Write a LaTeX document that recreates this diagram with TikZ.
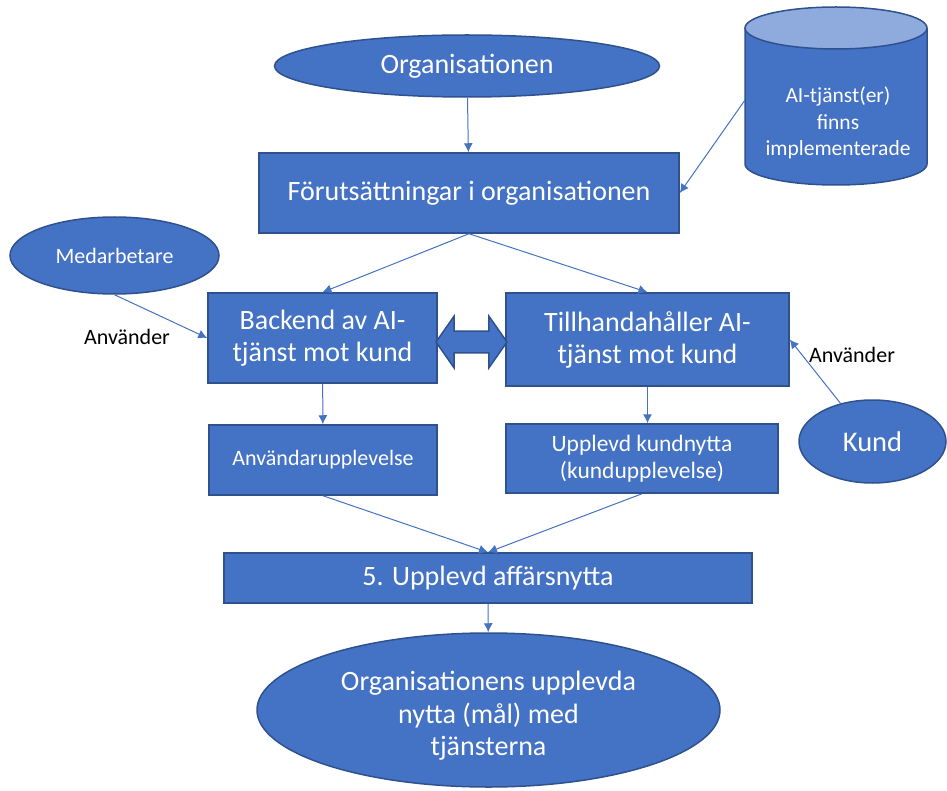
\documentclass[tikz,border=0pt]{standalone}
\usepackage{fontspec}
\setmainfont{Carlito}
\usetikzlibrary{shapes.geometric, shapes.arrows, arrows.meta}
\definecolor{officeblue}{HTML}{4472C4}
\definecolor{officeedge}{HTML}{2F528F}
\definecolor{officelight}{HTML}{8FAADC}
\tikzstyle{box} = [rectangle, draw=officeedge, line width=1.5pt, fill=officeblue, text=white, align=center, inner sep=0]
\tikzstyle{oval} = [ellipse, draw=officeedge, line width=1.5pt, fill=officeblue, text=white, align=center, inner sep=0]
\tikzstyle{arrow} = [draw=officeblue, line width=1pt, -{Latex[length=9pt, width=9pt]}]

\begin{document}
\begin{tikzpicture}[x=1pt, y=-1pt]
	\useasboundingbox (0,0) rectangle (947,791);
	\node[oval, minimum width=385, minimum height=62, font=\fontsize{28}{32}\selectfont] (org) at (467,66) {Organisationen};
	% database cylinder
	\draw[draw=officeedge, line width=1.5pt, fill=officeblue] (745,28) -- (745,164) arc[start angle=180, end angle=0, x radius=91, y radius=21] -- (927,28);
	\draw[draw=officeedge, line width=1.5pt, fill=officelight] (836,28) ellipse[x radius=91, y radius=21];
	\coordinate (aikant) at (745,100);
	\node[text=white, align=center, font=\fontsize{21.5}{26.5}\selectfont] (ai) at (838,123) {AI-tjänst(er)\\finns\\implementerade};
	\node[box, minimum width=420, minimum height=80, font=\fontsize{28}{32}\selectfont] (forut) at (469,193) {Förutsättningar i organisationen};
	\node[oval, minimum width=209, minimum height=77, font=\fontsize{22}{26}\selectfont] (medarb) at (114.5,255.5) {Medarbetare};
	\node[box, minimum width=229, minimum height=90, font=\fontsize{28}{32}\selectfont] (backend) at (322.5,338) {Backend av AI-\\tjänst mot kund};
	\node[box, minimum width=283, minimum height=93, font=\fontsize{28}{32}\selectfont] (tillhand) at (647.5,339.5) {Tillhandahåller AI-\\tjänst mot kund};
	\node[double arrow, draw=officeedge, line width=1.5pt, fill=officeblue, inner sep=10pt, double arrow head extend=15pt, double arrow tip angle=110, minimum height=71] (dubbel) at (471.5,342) {};
	\node[box, minimum width=228, minimum height=70, font=\fontsize{22}{26}\selectfont] (anvupp) at (323,460) {Användarupplevelse};
	\node[box, minimum width=272, minimum height=69, font=\fontsize{23.5}{27}\selectfont] (kundnytta) at (642,458.5) {Upplevd kundnytta\\(kundupplevelse)};
	\node[oval, minimum width=147, minimum height=83, font=\fontsize{28.5}{32}\selectfont] (kund) at (872.5,441.5) {Kund};
	\node[box, minimum width=528, minimum height=50, font=\fontsize{28}{32}\selectfont] (affar) at (488,578) {5. Upplevd affärsnytta};
	\node[oval, minimum width=463, minimum height=154, font=\fontsize{28}{32.5}\selectfont] (mal) at (488.5,710) {};
	\node[text=white, align=center, font=\fontsize{28}{32.5}\selectfont] (maltext) at (488.5,716) {Organisationens upplevda\\nytta (mål) med\\tjänsterna};
	\node[font=\fontsize{22}{26}\selectfont] (anv1) at (127,337) {Använder};
	\node[font=\fontsize{22}{26}\selectfont] (anv2) at (852,355) {Använder};
	\draw[arrow] (org) -- (forut);
	\draw[arrow] (aikant) -- (forut.east);
	\draw[arrow] (forut.south) -- (backend.north);
	\draw[arrow] (forut.south) -- (tillhand.north);
	\draw[arrow] (medarb.south) -- (backend.west);
	\draw[arrow] (kund.130) -- (tillhand.east);
	\draw[arrow] (backend) -- (anvupp);
	\draw[arrow] (tillhand.south) -- (kundnytta.north -| tillhand.south);
	\draw[arrow] (anvupp.south) -- (affar.north);
	\draw[arrow] (kundnytta.south) -- (affar.north);
	\draw[arrow] (affar) -- (mal);
\end{tikzpicture}
\end{document}
